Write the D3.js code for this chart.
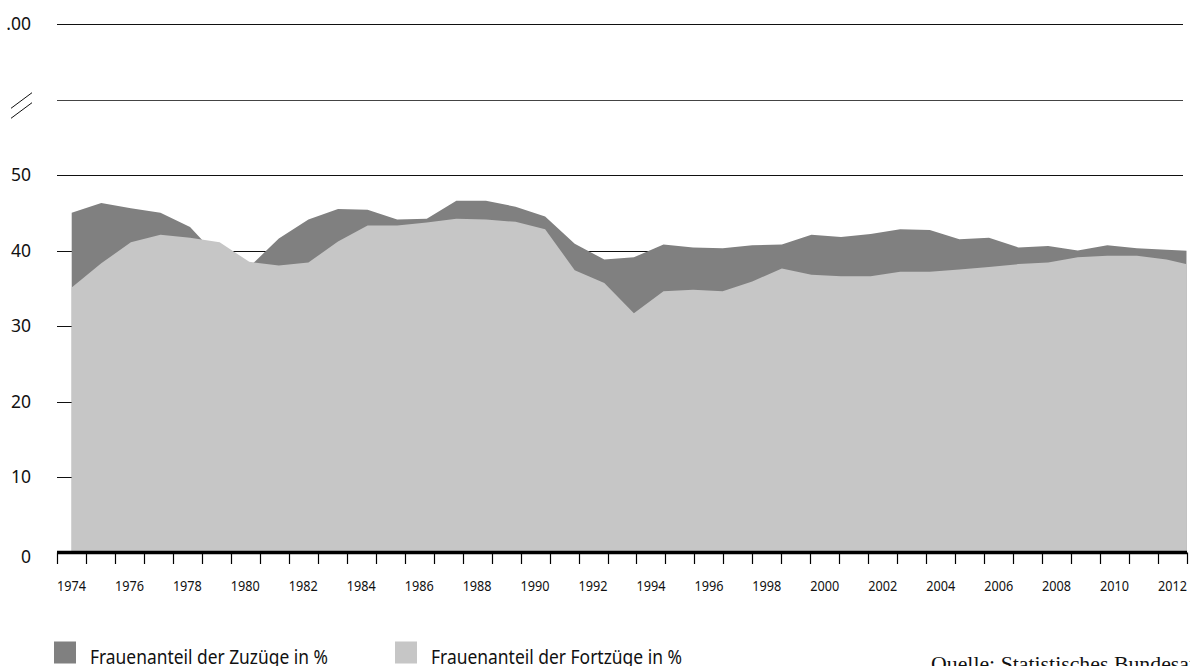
<!DOCTYPE html>
<html>
<head>
<meta charset="utf-8">
<script src="https://cdn.jsdelivr.net/npm/d3@7"></script>
<style>
  html, body { margin: 0; padding: 0; background: #fff; overflow: hidden; }
  svg { display: block; }
</style>
</head>
<body>
<svg id="chart" width="1190" height="666"></svg>
<script>
// ---- data ----
const years = [1974,1975,1976,1977,1978,1979,1980,1981,1982,1983,1984,1985,1986,1987,1988,1989,1990,
  1991,1992,1993,1994,1995,1996,1997,1998,1999,2000,2001,2002,2003,2004,2005,2006,2007,2008,2009,2010,2011,2012];
const zuzuege = [45.0,46.3,45.6,45.0,43.1,38.9,37.8,41.6,44.1,45.5,45.4,
  44.1,44.2,46.6,46.6,45.8,44.5,40.9,38.8,39.1,40.8,40.4,40.3,40.7,
  40.8,42.1,41.8,42.2,42.8,42.7,41.5,41.7,40.4,40.6,40.0,40.7,40.3,40.1,39.9];
const fortzuege = [35.1,38.3,41.1,42.1,41.7,41.1,38.5,38.0,38.4,41.2,43.3,
  43.3,43.7,44.2,44.1,43.8,42.8,37.4,35.7,31.7,34.6,34.8,34.6,35.9,
  37.6,36.8,36.6,36.6,37.2,37.2,37.5,37.8,38.2,38.4,39.1,39.3,39.3,38.8,37.9];
const yTicks = [0,10,20,30,40,50,60,70];
const yTickLabels = ["0","10","20","30","40","50","",".00"];
const yBreakAt = 60;
const xLabelYears = [1974,1976,1978,1980,1982,1984,1986,1988,1990,1992,1994,1996,1998,2000,2002,2004,2006,2008,2010,2012];
const seriesNames = ["Frauenanteil der Zuzüge in %", "Frauenanteil der Fortzüge in %"];
const sourceText = "Quelle: Statistisches Bundesamt";

// ---- layout ----
const colDark = "#808080", colLight = "#c6c6c6";
const svg = d3.select("#chart");

const y = d3.scaleLinear().domain([0, 70]).range([552.5, 24]);
// data x positions
const x = d3.scaleLinear().domain([1974, 2012]).range([71.7, 1196.1]);
// axis bands (one band per year)
const xBand = d3.scaleBand().domain(years).range([57, 1187]).padding(0);

// gridlines
svg.append("g").selectAll("line").data(yTicks).join("line")
  .attr("x1", 57).attr("x2", 1183)
  .attr("y1", d => Math.round(y(d)) + 0.5).attr("y2", d => Math.round(y(d)) + 0.5)
  .attr("stroke", d => d === yBreakAt ? "#444" : "#111").attr("stroke-width", 1);

// y labels
svg.append("g").selectAll("text").data(yTicks).join("text")
  .attr("x", 31).attr("y", d => y(d) + (d === 0 ? 4 : 0)).attr("dy", "0.36em")
  .attr("text-anchor", "end")
  .attr("font-family", "'Noto Sans', sans-serif").attr("font-size", 17.5).attr("fill", "#111")
  .text((d, i) => yTickLabels[i]);

// break symbol
const by = y(yBreakAt) + 6;
svg.append("g").selectAll("line").data([-5, 5]).join("line")
  .attr("x1", 11).attr("x2", 32)
  .attr("y1", d => by + d + 7.8).attr("y2", d => by + d - 7.8)
  .attr("stroke", "#111").attr("stroke-width", 1);

// areas
svg.append("clipPath").attr("id", "clip").append("rect")
  .attr("x", 0).attr("y", 0).attr("width", 1186.5).attr("height", 666);
const area = vals => d3.area()
  .x((d, i) => x(years[i])).y0(y(0)).y1(d => y(d))(vals);
const ga = svg.append("g").attr("clip-path", "url(#clip)");
ga.append("path").attr("d", area(zuzuege)).attr("fill", colDark);
ga.append("path").attr("d", area(fortzuege)).attr("fill", colLight);

// x axis
svg.append("line").attr("x1", 57).attr("x2", 1187)
  .attr("y1", y(0)).attr("y2", y(0)).attr("stroke", "#000").attr("stroke-width", 3.5);
const tickPos = years.map(yr => xBand(yr)).concat([xBand.range()[1]]);
svg.append("g").selectAll("line").data(tickPos).join("line")
  .attr("x1", d => Math.round(d) + 0.5).attr("x2", d => Math.round(d) + 0.5)
  .attr("y1", y(0)).attr("y2", 564)
  .attr("stroke", "#000").attr("stroke-width", 1.2);
svg.append("g").selectAll("text").data(xLabelYears).join("text")
  .attr("x", d => xBand(d) + xBand.bandwidth() / 2).attr("y", 590.5)
  .attr("text-anchor", "middle")
  .attr("font-family", "'Noto Sans', sans-serif").attr("font-size", 14.5).attr("fill", "#111")
  .attr("textLength", 29).attr("lengthAdjust", "spacingAndGlyphs")
  .text(d => d);

// legend
const legend = [
  { name: seriesNames[0], color: colDark, x: 54, w: 238 },
  { name: seriesNames[1], color: colLight, x: 395, w: 251 }
];
const lg = svg.append("g").selectAll("g").data(legend).join("g");
lg.append("rect").attr("x", d => d.x).attr("y", 641.5).attr("width", 22).attr("height", 22).attr("fill", d => d.color);
lg.append("text").attr("x", d => d.x + 36).attr("y", 663.5)
  .attr("font-family", "'Noto Sans', sans-serif").attr("font-size", 20).attr("fill", "#111")
  .attr("textLength", d => d.w).attr("lengthAdjust", "spacingAndGlyphs")
  .text(d => d.name);

// source
svg.append("text").attr("x", 931).attr("y", 671)
  .attr("font-family", "'Liberation Serif', serif").attr("font-size", 20).attr("fill", "#111")
  .attr("textLength", 281).attr("lengthAdjust", "spacingAndGlyphs")
  .text(sourceText);
</script>
</body>
</html>
